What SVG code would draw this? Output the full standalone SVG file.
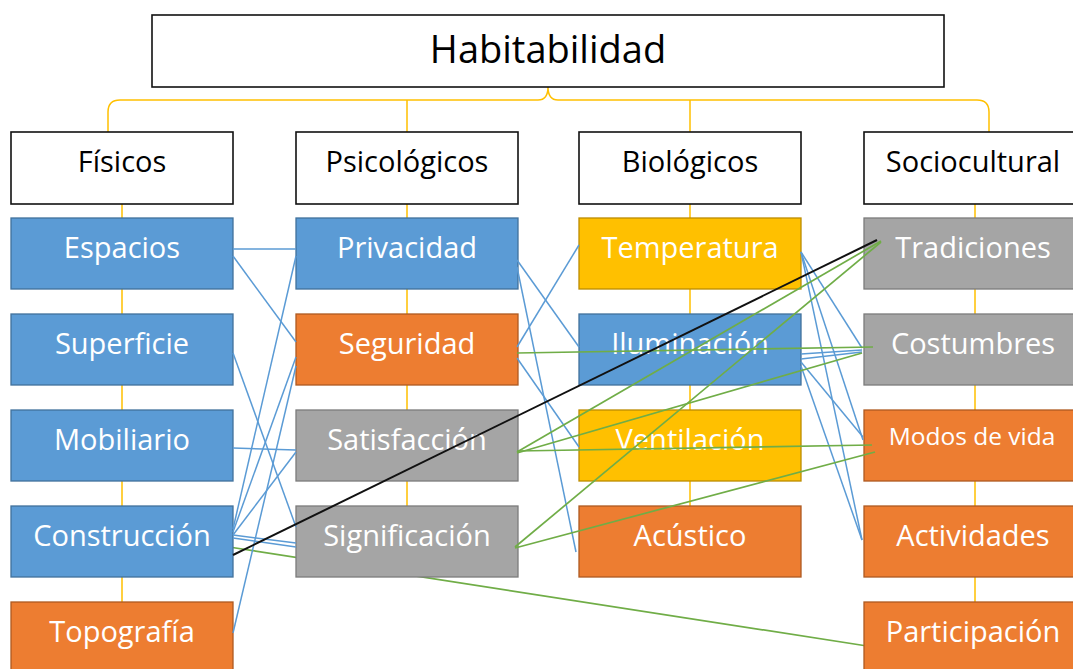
<svg xmlns="http://www.w3.org/2000/svg" width="1073" height="669" viewBox="0 0 1073 669">
<style>
.t{font-family:"Open Sans","Liberation Sans",sans-serif;text-anchor:middle}
.lt{font-size:29px;fill:#000}
.st{font-size:29px;fill:#fff}
.hd{fill:#fff;stroke:#111;stroke-width:1.6}
.blue{fill:#5B9BD5;stroke:#41719C;stroke-width:1.3}
.orange{fill:#ED7D31;stroke:#AE5A21;stroke-width:1.3}
.gray{fill:#A5A5A5;stroke:#7B7B7B;stroke-width:1.3}
.yellow{fill:#FFC000;stroke:#BC8C00;stroke-width:1.3}
.tree{stroke:#FFC000;stroke-width:1.5;fill:none}
.cb line{stroke:#5B9BD5;stroke-width:1.5}
.cg line{stroke:#70AD47;stroke-width:1.7}
.ck line{stroke:#111;stroke-width:2}
</style>
<g id="tree" class="tree">
<path d="M108,132 V112 Q108,100 120,100 H538 Q548,100 548,87 Q548,100 558,100 H977 Q989,100 989,112 V132"/>
<path d="M407,100 V132 M690,100 V132"/>
<path d="M122,204 V602 M407,204 V506 M690,204 V506 M975,204 V602"/>
</g>
<g id="connectors-back" class="cg">
<line x1="229" y1="547" x2="867" y2="646"/>
</g>
<g id="habitabilidad"><rect class="hd" x="152" y="15" width="792" height="72"/><text class="t" x="548" y="63" font-size="38">Habitabilidad</text></g>
<g id="fisicos"><rect class="hd" x="11" y="132" width="222" height="72"/><text class="t lt" x="122" y="172">Físicos</text></g>
<g id="psicologicos"><rect class="hd" x="296" y="132" width="222" height="72"/><text class="t lt" x="407" y="172">Psicológicos</text></g>
<g id="biologicos"><rect class="hd" x="579" y="132" width="222" height="72"/><text class="t lt" x="690" y="172">Biológicos</text></g>
<g id="sociocultural"><rect class="hd" x="864" y="132" width="222" height="72"/><text class="t lt" x="973" y="172">Sociocultural</text></g>

<g id="espacios"><rect class="blue" x="11" y="218" width="222" height="71"/><text class="t st" x="122" y="258">Espacios</text></g>
<g id="superficie"><rect class="blue" x="11" y="314" width="222" height="71"/><text class="t st" x="122" y="354">Superficie</text></g>
<g id="mobiliario"><rect class="blue" x="11" y="410" width="222" height="71"/><text class="t st" x="122" y="450">Mobiliario</text></g>
<g id="construccion"><rect class="blue" x="11" y="506" width="222" height="71"/><text class="t st" x="122" y="546">Construcción</text></g>
<g id="topografia"><rect class="orange" x="11" y="602" width="222" height="71"/><text class="t st" x="122" y="642">Topografía</text></g>

<g id="privacidad"><rect class="blue" x="296" y="218" width="222" height="71"/><text class="t st" x="407" y="258">Privacidad</text></g>
<g id="seguridad"><rect class="orange" x="296" y="314" width="222" height="71"/><text class="t st" x="407" y="354">Seguridad</text></g>
<g id="satisfaccion"><rect class="gray" x="296" y="410" width="222" height="71"/><text class="t st" x="407" y="450">Satisfacción</text></g>
<g id="significacion"><rect class="gray" x="296" y="506" width="222" height="71"/><text class="t st" x="407" y="546">Significación</text></g>

<g id="temperatura"><rect class="yellow" x="579" y="218" width="222" height="71"/><text class="t st" x="690" y="258">Temperatura</text></g>
<g id="iluminacion"><rect class="blue" x="579" y="314" width="222" height="71"/><text class="t st" x="690" y="354">Iluminación</text></g>
<g id="ventilacion"><rect class="yellow" x="579" y="410" width="222" height="71"/><text class="t st" x="690" y="450">Ventilación</text></g>
<g id="acustico"><rect class="orange" x="579" y="506" width="222" height="71"/><text class="t st" x="690" y="546">Acústico</text></g>

<g id="tradiciones"><rect class="gray" x="864" y="218" width="222" height="71"/><text class="t st" x="973" y="258">Tradiciones</text></g>
<g id="costumbres"><rect class="gray" x="864" y="314" width="222" height="71"/><text class="t st" x="973" y="354">Costumbres</text></g>
<g id="modos"><rect class="orange" x="864" y="410" width="222" height="71"/><text class="t" x="972" y="445" font-size="24.5" fill="#fff">Modos de vida</text></g>
<g id="actividades"><rect class="orange" x="864" y="506" width="222" height="71"/><text class="t st" x="973" y="546">Actividades</text></g>
<g id="participacion"><rect class="orange" x="864" y="602" width="222" height="71"/><text class="t st" x="973" y="642">Participación</text></g>

<g id="connectors">
<g class="cb">
<line x1="233" y1="249" x2="296" y2="249"/>
<line x1="233" y1="256" x2="296" y2="342"/>
<line x1="233" y1="353" x2="296" y2="527"/>
<line x1="233" y1="448" x2="296" y2="450"/>
<line x1="233" y1="529" x2="296" y2="256"/>
<line x1="233" y1="532" x2="296" y2="357"/>
<line x1="233" y1="535" x2="296" y2="452"/>
<line x1="233" y1="535" x2="296" y2="543"/>
<line x1="233" y1="538" x2="296" y2="547"/>
<line x1="233" y1="633" x2="296" y2="366"/>
<line x1="517" y1="260" x2="579" y2="347"/>
<line x1="517" y1="267" x2="576" y2="552"/>
<line x1="517" y1="347" x2="579" y2="245"/>
<line x1="517" y1="358" x2="579" y2="447"/>
<line x1="801" y1="252" x2="862" y2="348"/>
<line x1="801" y1="252" x2="863" y2="440"/>
<line x1="801" y1="252" x2="862" y2="540"/>
<line x1="801" y1="354" x2="862" y2="350"/>
<line x1="801" y1="359" x2="862" y2="352"/>
<line x1="801" y1="362" x2="863" y2="437"/>
<line x1="801" y1="366" x2="862" y2="540"/>
</g>
<g class="cg">
<line x1="517" y1="353" x2="873" y2="347"/>
<line x1="517" y1="452" x2="881" y2="241"/>
<line x1="517" y1="453" x2="862" y2="353"/>
<line x1="517" y1="451" x2="872" y2="445"/>
<line x1="515" y1="547" x2="881" y2="242"/>
<line x1="515" y1="548" x2="875" y2="452"/>
</g>
<g class="ck">
<line x1="233" y1="555" x2="877" y2="240"/>
</g>
</g>
</svg>
